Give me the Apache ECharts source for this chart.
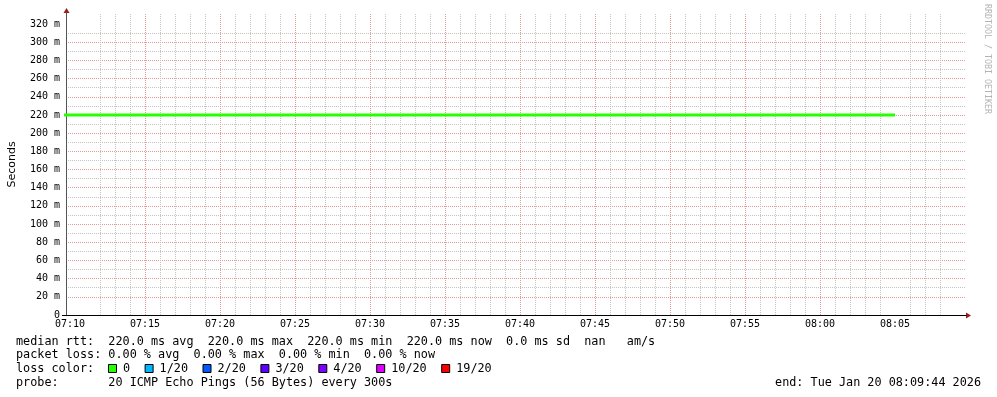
<!DOCTYPE html>
<html>
<head>
<meta charset="utf-8">
<script src="https://cdn.jsdelivr.net/npm/echarts@6/dist/echarts.min.js"></script>
<style>
html,body{margin:0;padding:0;background:#fff;}
#c{width:997px;height:397px;}
</style>
</head>
<body>
<div id="c"></div>
<script>
// ---- data ----
const startTime = '07:09:44';
const endTime = '08:09:44';
const sampleTimes = ['07:05','07:10','07:15','07:20','07:25','07:30','07:35','07:40','07:45','07:50','07:55','08:00','08:05'];
const medianRtt = [0.22,0.22,0.22,0.22,0.22,0.22,0.22,0.22,0.22,0.22,0.22,0.22,0.22]; // seconds
const xTickLabels = ['07:10','07:15','07:20','07:25','07:30','07:35','07:40','07:45','07:50','07:55','08:00','08:05'];
const yTickLabels = [0,20,40,60,80,100,120,140,160,180,200,220,240,260,280,300,320]; // milliseconds
const yMaxMs = 331;
const statsRtt = 'median rtt:  220.0 ms avg  220.0 ms max  220.0 ms min  220.0 ms now  0.0 ms sd  nan   am/s';
const statsLoss = 'packet loss: 0.00 % avg  0.00 % max  0.00 % min  0.00 % now';
const lossTitle = 'loss color:';
const lossLabels = ['0','1/20','2/20','3/20','4/20','10/20','19/20'];
const lossColors = ['#26ff00','#00b8ff','#0059ff','#5e00ff','#7e00ff','#dd00ff','#ff0000'];
const probeText = 'probe:       20 ICMP Echo Pings (56 Bytes) every 300s';
const endText = 'end: Tue Jan 20 08:09:44 2026';
const watermark = 'RRDTOOL / TOBI OETIKER';
const yAxisName = 'Seconds';

// ---- helpers ----
function toSec(s){const p=s.split(':').map(Number);return p[0]*3600+p[1]*60+(p[2]||0);}
function fmtTime(v){const h=Math.floor(v/3600),m=Math.floor((v%3600)/60);return String(h).padStart(2,'0')+':'+String(m).padStart(2,'0');}
const xMin = toSec(startTime), xMax = toSec(endTime);
const xLabelVals = xTickLabels.map(toSec);
const xMinorVals = [];
for (let t = Math.ceil(xMin/60)*60; t < xMax; t += 60) if (t % 300 !== 0) xMinorVals.push(t);
const yMajorVals = yTickLabels.map(v=>v/1000);
const yMinorVals = [];
for (let v = 10; v <= yMaxMs; v += 20) yMinorVals.push(v/1000);
const MAJOR = '#e59a9a', MINOR = '#c4c4c4';

const MONO = 'DejaVu Sans Mono';
const chart = echarts.init(document.getElementById('c'), null, {renderer:'canvas'});

// bottom legend graphics
const g = [];
const fs = 11.8, cw = 7.1;
g.push({type:'text', x:16, y:341.5, style:{text:statsRtt, font:fs+'px "'+MONO+'"', fill:'#000', verticalAlign:'middle'}});
g.push({type:'text', x:16, y:355.3, style:{text:statsLoss, font:fs+'px "'+MONO+'"', fill:'#000', verticalAlign:'middle'}});
g.push({type:'text', x:16, y:369.2, style:{text:lossTitle, font:fs+'px "'+MONO+'"', fill:'#000', verticalAlign:'middle'}});
let lx = 108.5;
lossLabels.forEach((lab, i) => {
  g.push({type:'rect', shape:{x:lx, y:364.5, width:8, height:8}, style:{fill:lossColors[i], stroke:'#000', lineWidth:1}});
  g.push({type:'text', x:lx+14.5, y:369.2, style:{text:lab, font:fs+'px "'+MONO+'"', fill:'#000', verticalAlign:'middle'}});
  lx = lx + 14.5 + lab.length*cw + 15;
});
g.push({type:'text', x:16, y:383, style:{text:probeText, font:fs+'px "'+MONO+'"', fill:'#000', verticalAlign:'middle'}});
g.push({type:'text', x:981, y:383, style:{text:endText, font:fs+'px "'+MONO+'"', fill:'#000', align:'right', verticalAlign:'middle'}});
g.push({type:'text', x:987, y:4, rotation:-Math.PI/2, style:{text:watermark, font:'8.3px "'+MONO+'"', fill:'#b4b4b4', align:'left', verticalAlign:'middle'}});

const dotted = [1,1];
const option = {
  animation:false,
  backgroundColor:'#fff',
  grid:{left:66, right:31, top:14, bottom:82, containLabel:false, outerBoundsMode:'none'},
  xAxis:[{
    // minor (1 minute) grid
    type:'value', min:xMin, max:xMax, position:'bottom',
    axisLine:{show:false}, axisTick:{show:false, customValues:xMinorVals}, axisLabel:{show:false},
    splitLine:{show:true, showMinLine:false, showMaxLine:false, lineStyle:{color:MINOR, type:dotted, width:1}}
  },{
    // major (5 minute) grid + labels
    type:'value', min:xMin, max:xMax, position:'bottom',
    axisLine:{show:true, onZero:false, lineStyle:{color:'#000', width:1}},
    axisTick:{show:false, customValues:xLabelVals},
    axisLabel:{customValues:xLabelVals, formatter:v=>fmtTime(v), fontFamily:MONO, fontSize:10, color:'#000', margin:4},
    splitLine:{show:true, showMinLine:false, showMaxLine:false, lineStyle:{color:MAJOR, type:dotted, width:1}}
  }],
  yAxis:[{
    // minor (10 m) grid
    type:'value', min:0, max:yMaxMs/1000, position:'left',
    axisLine:{show:false}, axisTick:{show:false, customValues:yMinorVals}, axisLabel:{show:false},
    splitLine:{show:true, showMinLine:false, showMaxLine:false, lineStyle:{color:MINOR, type:dotted, width:1}}
  },{
    // major (20 m) grid + labels
    type:'value', min:0, max:yMaxMs/1000, position:'left',
    name:yAxisName, nameLocation:'middle', nameRotate:90, nameGap:48,
    nameTextStyle:{fontFamily:'DejaVu Sans', fontSize:11, color:'#000'},
    axisLine:{show:true, onZero:false, lineStyle:{color:'#555', width:1}},
    axisTick:{show:false, customValues:yMajorVals},
    axisLabel:{customValues:yMajorVals, formatter:v=>{const ms=Math.round(v*1000);return ms===0?'0':ms+' m';}, fontFamily:MONO, fontSize:10, color:'#000', margin:6},
    splitLine:{show:true, showMinLine:false, showMaxLine:false, lineStyle:{color:MAJOR, type:dotted, width:1}}
  }],
  series:[{
    type:'line', name:'median rtt', xAxisIndex:1, yAxisIndex:1, z:3,
    data:sampleTimes.map((t,i)=>[toSec(t), medianRtt[i]]),
    showSymbol:false, clip:true,
    lineStyle:{color:lossColors[0], width:3},
    itemStyle:{color:lossColors[0]}
  }],
  graphic:g
};
chart.setOption(option);

// axis arrows anchored on axis extents
const pEnd = chart.convertToPixel({xAxisIndex:1, yAxisIndex:1}, [xMax, 0]);
const pTop = chart.convertToPixel({xAxisIndex:1, yAxisIndex:1}, [xMin, yMaxMs/1000]);
const arrowColor = '#9b1c1c';
chart.setOption({graphic: g.concat([
  {type:'polygon', shape:{points:[[pEnd[0]+5, pEnd[1]+0.5],[pEnd[0], pEnd[1]-2.5],[pEnd[0], pEnd[1]+3.5]]}, style:{fill:arrowColor}},
  {type:'polygon', shape:{points:[[pTop[0]+0.5, pTop[1]-6],[pTop[0]-2.5, pTop[1]-1],[pTop[0]+3.5, pTop[1]-1]]}, style:{fill:arrowColor}},
  {type:'line', shape:{x1:pTop[0]+0.5, y1:pTop[1]-2, x2:pTop[0]+0.5, y2:pTop[1]}, style:{stroke:'#555', lineWidth:1}},
  {type:'line', shape:{x1:pEnd[0]-904, y1:pEnd[1]+0.5, x2:pEnd[0]-900, y2:pEnd[1]+0.5}, style:{stroke:'#000', lineWidth:1}}
])});
</script>
</body>
</html>
